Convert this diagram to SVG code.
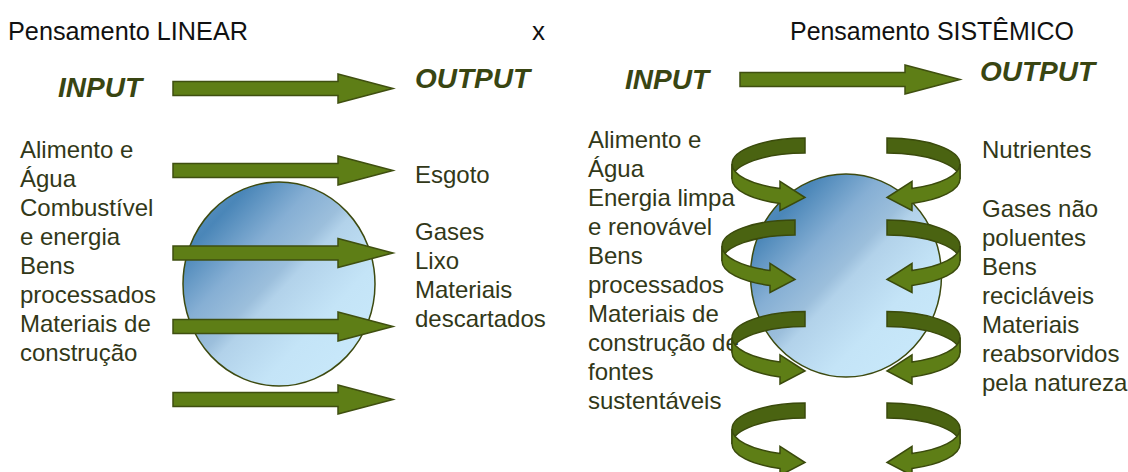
<svg xmlns="http://www.w3.org/2000/svg" xmlns:xlink="http://www.w3.org/1999/xlink" width="1128" height="472" viewBox="0 0 1128 472">
<style>
.title{font-family:"Liberation Sans",Arial,sans-serif;font-size:26px;fill:#111111}
.io{font-family:"Liberation Sans",Arial,sans-serif;font-size:28px;font-weight:bold;font-style:italic;fill:#394512}
.lbl{font-family:"Liberation Sans",Arial,sans-serif;font-size:24px;fill:#323818}
.ball{fill:url(#blue);stroke:#3d4a10;stroke-width:1.5}
.arr{fill:#5e7e16;stroke:#3f4f10;stroke-width:1.5;stroke-linejoin:miter}
.dark{fill:#4a6311;stroke:#3a4a0c;stroke-width:1.5}
.light{fill:#5e7e16;stroke:#3a4a0c;stroke-width:1.5}
</style>
<defs>
<linearGradient id="blue" x1="0" y1="0" x2="1" y2="1">
<stop offset="0" stop-color="#6a9bc8"/>
<stop offset="0.18" stop-color="#4a86b8"/>
<stop offset="0.35" stop-color="#86afd4"/>
<stop offset="0.47" stop-color="#9cbfdc"/>
<stop offset="0.52" stop-color="#b2d2ea"/>
<stop offset="0.7" stop-color="#c4e4f7"/>
<stop offset="1" stop-color="#cbebfc"/>
</linearGradient>
<path id="sarrow" class="arr" d="M0,-7 H165 V-14.5 L220,0 L165,14.5 V7 H0 Z"/>
<g id="carrow">
<path class="dark" d="M0,-33.5 A73,26 0 0 0 -73,-7.5 L-73,7.5 A73,26 0 0 1 0,-18.5 Z"/>
<path class="light" d="M-73,-7.5 L-73,7.5 A73,26 0 0 0 -25,31.93 L-25,38.93 L0,26 L-25,9.93 L-25,16.93 A73,26 0 0 1 -73,-7.5 Z"/>
</g>
</defs>
<rect width="1128" height="472" fill="#ffffff"/>

<g id="title-linear"><text class="title" x="8" y="40" textLength="240" lengthAdjust="spacingAndGlyphs">Pensamento LINEAR</text></g>
<g id="title-x"><text class="title" x="532" y="40">x</text></g>
<g id="title-sistemico"><text class="title" x="790" y="40" textLength="284" lengthAdjust="spacingAndGlyphs">Pensamento SISTÊMICO</text></g>

<g id="input-linear"><text class="io" x="58" y="97">INPUT</text></g>
<g id="output-linear"><text class="io" x="415" y="88">OUTPUT</text></g>
<g id="input-sistemico"><text class="io" x="625" y="89">INPUT</text></g>
<g id="output-sistemico"><text class="io" x="980" y="81">OUTPUT</text></g>

<g id="ball-linear"><ellipse class="ball" cx="279" cy="284" rx="96" ry="102"/></g>
<g id="ball-sistemico"><ellipse class="ball" cx="846" cy="275.5" rx="95.5" ry="101.5"/></g>

<g id="inputs-linear">
<text class="lbl" x="20" y="158">Alimento e</text>
<text class="lbl" x="20" y="187">Água</text>
<text class="lbl" x="20" y="216">Combustível</text>
<text class="lbl" x="20" y="245">e energia</text>
<text class="lbl" x="20" y="274">Bens</text>
<text class="lbl" x="20" y="303">processados</text>
<text class="lbl" x="20" y="332">Materiais de</text>
<text class="lbl" x="20" y="361">construção</text>
</g>
<g id="outputs-linear">
<text class="lbl" x="415" y="183">Esgoto</text>
<text class="lbl" x="415" y="240">Gases</text>
<text class="lbl" x="415" y="269">Lixo</text>
<text class="lbl" x="415" y="298">Materiais</text>
<text class="lbl" x="415" y="327">descartados</text>
</g>
<g id="inputs-sistemico">
<text class="lbl" x="588" y="148">Alimento e</text>
<text class="lbl" x="588" y="177">Água</text>
<text class="lbl" x="588" y="206">Energia limpa</text>
<text class="lbl" x="588" y="235">e renovável</text>
<text class="lbl" x="588" y="264">Bens</text>
<text class="lbl" x="588" y="293">processados</text>
<text class="lbl" x="588" y="322">Materiais de</text>
<text class="lbl" x="588" y="351">construção de</text>
<text class="lbl" x="588" y="380">fontes</text>
<text class="lbl" x="588" y="409">sustentáveis</text>
</g>
<g id="outputs-sistemico">
<text class="lbl" x="982" y="158">Nutrientes</text>
<text class="lbl" x="982" y="217">Gases não</text>
<text class="lbl" x="982" y="246">poluentes</text>
<text class="lbl" x="982" y="275">Bens</text>
<text class="lbl" x="982" y="304">recicláveis</text>
<text class="lbl" x="982" y="333">Materiais</text>
<text class="lbl" x="982" y="362">reabsorvidos</text>
<text class="lbl" x="982" y="391">pela natureza</text>
</g>

<g id="connectors">
<use href="#sarrow" transform="translate(173,88.5)"/>
<use href="#sarrow" transform="translate(173,170.5)"/>
<use href="#sarrow" transform="translate(173,253)"/>
<use href="#sarrow" transform="translate(173,326.5)"/>
<use href="#sarrow" transform="translate(173,399.5)"/>
<use href="#sarrow" transform="translate(740,79.5)"/>
<use href="#carrow" transform="translate(805,171.5)"/>
<use href="#carrow" transform="translate(795,253.5)"/>
<use href="#carrow" transform="translate(805,345)"/>
<use href="#carrow" transform="translate(805,436.5)"/>
<use href="#carrow" transform="translate(887,171.5) scale(-1,1)"/>
<use href="#carrow" transform="translate(887,253.5) scale(-1,1)"/>
<use href="#carrow" transform="translate(887,345) scale(-1,1)"/>
<use href="#carrow" transform="translate(887,436.5) scale(-1,1)"/>
</g>
</svg>
